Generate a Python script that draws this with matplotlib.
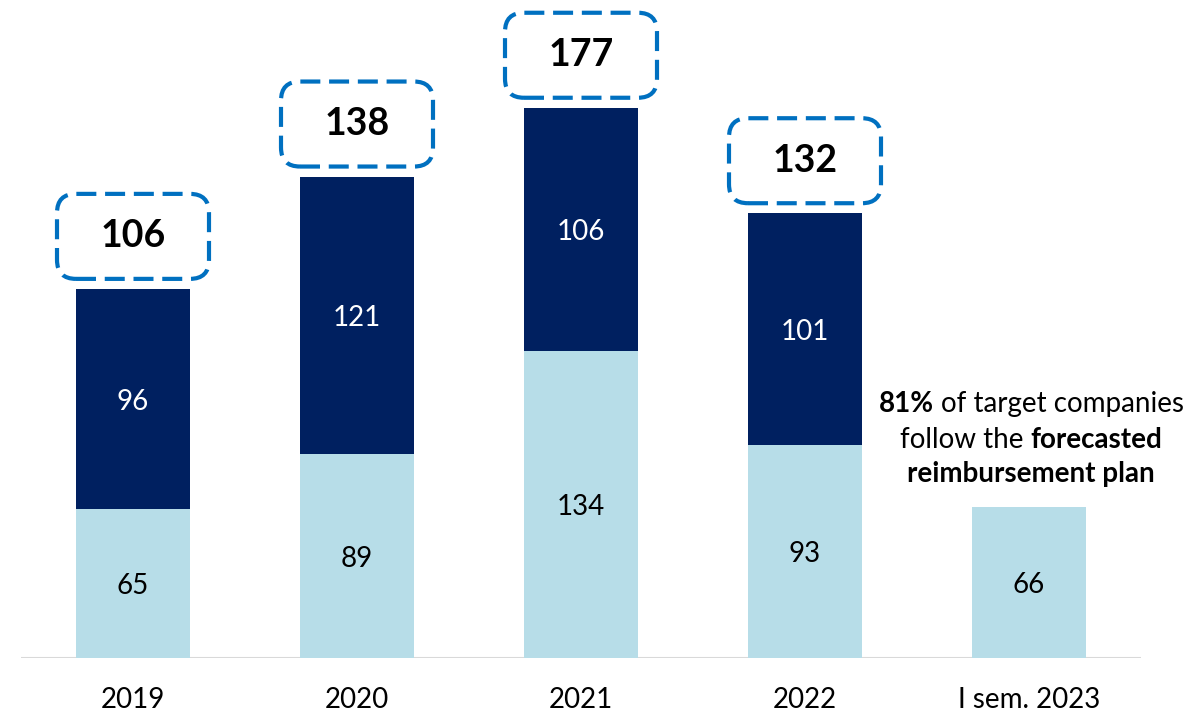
import matplotlib
matplotlib.use("Agg")
import matplotlib.pyplot as plt
from matplotlib.patches import FancyBboxPatch
from matplotlib.offsetbox import TextArea, HPacker, AnnotationBbox

plt.rcParams['font.family'] = ['Lato', 'DejaVu Sans']

categories = ["2019", "2020", "2021", "2022", "I sem. 2023"]
light_values = [65, 89, 134, 93, 66]
dark_values = [96, 121, 106, 101, 0]
box_values = [106, 138, 177, 132]

light_color = "#B7DDE8"
dark_color = "#002060"
box_color = "#0070C0"

W, H, DPI = 11.89, 7.15, 100
fig = plt.figure(figsize=(W, H), dpi=DPI)
left_px, right_px, base_px = 21, 1141, 658
ax = fig.add_axes([left_px / 1189, (715 - base_px) / 715,
                   (right_px - left_px) / 1189, base_px / 715])
ax.set_xlim(-0.5, 4.5)
ax.set_ylim(0, 287)
ax.axis("off")

x = list(range(len(categories)))
width = 0.505
ax.bar(x, light_values, width, color=light_color, zorder=2)
ax.bar(x[:4], dark_values[:4], width, bottom=light_values[:4], color=dark_color, zorder=2)

ax.axhline(0, color="#D9D9D9", lw=1.5, zorder=1)

label_fs = 20
dy = -1.3
for i, (lv, dv) in enumerate(zip(light_values, dark_values)):
    ax.text(i, lv / 2 + dy, str(lv), ha="center", va="center", fontsize=label_fs, color="black")
    if dv:
        ax.text(i, lv + dv / 2 + dy, str(dv), ha="center", va="center", fontsize=label_fs, color="white")
    ax.text(i, -18.5, categories[i], ha="center", va="center", fontsize=label_fs, color="black", clip_on=False)

# dashed rounded boxes
px_per_x = (right_px - left_px) / 5
px_per_y = base_px / 287
bw = 152 / px_per_x
bh = 85 / px_per_y
gap = 10 / px_per_y
r = 19 / px_per_x
for i, bv in enumerate(box_values):
    top = light_values[i] + dark_values[i]
    y0 = top + gap
    patch = FancyBboxPatch((i - bw / 2, y0), bw, bh,
                           boxstyle=f"round,pad=0,rounding_size={r}",
                           mutation_aspect=px_per_x / px_per_y,
                           fill=False, edgecolor=box_color, lw=3,
                           linestyle=(0, (4.8, 2.1)), zorder=3, clip_on=False)
    ax.add_patch(patch)
    ax.text(i, y0 + bh / 2, str(bv), ha="center", va="center", fontsize=27,
            fontweight="bold", color="black")

# annotation
lines = [
    [("81%", "bold"), ("of target companies", "normal")],
    [("follow the", "normal"), ("forecasted", "bold")],
    [("reimbursement plan", "bold")],
]
line_y = [110.9, 95.2, 80.3]
for parts, yy in zip(lines, line_y):
    areas = [TextArea(t, textprops=dict(fontsize=label_fs, fontweight=w, color="black"))
             for t, w in parts]
    pack = HPacker(children=areas, align="baseline", pad=0, sep=5)
    ab = AnnotationBbox(pack, (4.01, yy), xycoords="data", frameon=False,
                        box_alignment=(0.5, 0.5), pad=0)
    ax.add_artist(ab)

fig.savefig("out.png", dpi=DPI, facecolor="white")
